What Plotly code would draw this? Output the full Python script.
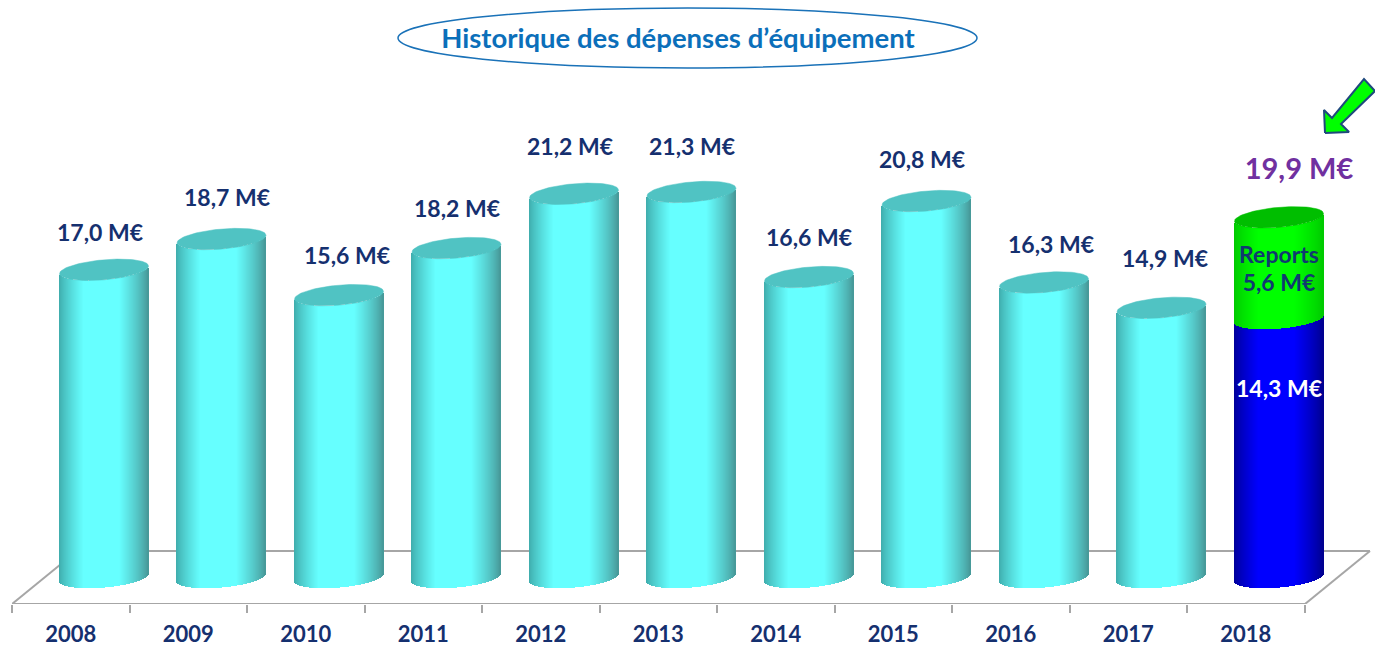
import plotly.graph_objects as go
import numpy as np

# ---- data ----
years = ["2008", "2009", "2010", "2011", "2012", "2013", "2014", "2015", "2016", "2017", "2018"]
totals = [17.0, 18.7, 15.6, 18.2, 21.2, 21.3, 16.6, 20.8, 16.3, 14.9]
value_labels = ["17,0 M€", "18,7 M€", "15,6 M€", "18,2 M€", "21,2 M€", "21,3 M€", "16,6 M€", "20,8 M€", "16,3 M€", "14,9 M€"]
base_2018 = 14.3
reports_2018 = 5.6
total_2018 = 19.9
title_text = "Historique des dépenses d’équipement"

# ---- layout geometry (pixels of the 1375x647 page) ----
W, H = 1375, 647
PX_L, PX_BOTTOM = 12, 604     # plot-area left edge and bottom edge
BAND = 117.5                  # px per category
UNIT = 18.1                   # px per value unit
Y0 = 577.5                    # px of value 0
CYL_SHIFT = (104 - (PX_L + BAND / 2)) / BAND   # cylinders stand deeper in the floor
HALF_W = 44.5 / BAND          # half cylinder width, category units
CAP_B = 10.0 / UNIT           # ellipse half height, value units
CAP_S = 3.8 / UNIT            # ellipse tilt, value units
STRIP = 1.0 / BAND
TEXT_DY = 3                   # text sits a little above its anchor
NAVY = "#15306F"
FONT = "Lato"


def xd(px):
    return (px - PX_L) / BAND - 0.5


def yd(px):
    return (Y0 - px) / UNIT


x_range = [-0.5, xd(W)]
y_range = [yd(PX_BOTTOM), yd(0)]


def shade(u, dark, light, dark_r):
    """Horizontal cylinder shading, u in -1..1."""
    if u < -0.45:
        t = (u + 1) / 0.55
        a = dark
    elif u > 0.35:
        t = (1 - u) / 0.65
        a = dark_r
    else:
        t, a = 1.0, light
    t = t ** 0.8
    return "rgb(%d,%d,%d)" % tuple(round(a[k] + (light[k] - a[k]) * t) for k in range(3))


def lower(level, u):
    return level - CAP_B * np.sqrt(max(0, 1 - u * u)) + CAP_S * u


def body(positions, bottoms, tops, dark, light, dark_r, name):
    xs, bases, heights, cols = [], [], [], []
    n = int(round(2 * HALF_W / STRIP))
    for pos, lo, hi in zip(positions, bottoms, tops):
        for k in range(n):
            u = (k + 0.5) / n * 2 - 1
            xs.append(pos + CYL_SHIFT + u * HALF_W)
            b = lower(lo, u)
            bases.append(b)
            heights.append(lower(hi, u) - b)
            cols.append(shade(u, dark, light, dark_r))
    return go.Bar(x=xs, y=heights, base=bases, width=STRIP * 1.25, name=name,
                  marker=dict(color=cols, line=dict(width=0)), hoverinfo="skip", showlegend=False)


def caps(positions, levels, color, name):
    xs, ys = [], []
    for pos, lev in zip(positions, levels):
        t = np.linspace(0, 2 * np.pi, 90)
        u = np.cos(t)
        xs += list(pos + CYL_SHIFT + HALF_W * u) + [None]
        ys += list(lev + CAP_B * np.sin(t) + CAP_S * u) + [None]
    return go.Scatter(x=xs, y=ys, mode="lines", fill="toself", fillcolor=color, name=name,
                      line=dict(width=0.5, color=color), hoverinfo="skip", showlegend=False)


positions = list(range(len(totals)))
CYAN = ((62, 170, 170), (102, 255, 255), (70, 150, 150))
BLUE = ((0, 0, 150), (0, 0, 255), (0, 0, 140))
GREEN = ((0, 200, 0), (0, 255, 0), (0, 200, 0))

fig = go.Figure()
fig.add_trace(body(positions, [0] * len(totals), totals, *CYAN, "Dépenses"))
fig.add_trace(body([10], [0], [base_2018], *BLUE, "2018 base"))
fig.add_trace(body([10], [base_2018], [total_2018], *GREEN, "Reports"))
fig.add_trace(caps(positions, totals, "#50C3C3", "caps"))
fig.add_trace(caps([10], [total_2018], "#00BE00", "caps 2018"))

# value labels
label_px_x = [100, 227, 347, 457, 570, 692, 809, 922, 1051, 1165]
label_px_y = [232, 197, 255, 208, 146, 146, 237, 159, 244, 258]
fig.add_trace(go.Scatter(x=[xd(p) for p in label_px_x], y=[yd(p + TEXT_DY) for p in label_px_y],
                         text=value_labels, mode="text", hoverinfo="skip", showlegend=False,
                         textfont=dict(family=FONT, size=23, color=NAVY, weight="bold")))

inner_labels = ["Reports", "5,6 M€", "14,3 M€"]
inner_px_y = [254, 282, 388]
inner_cols = ["#103A70", "#103A70", "#FFFFFF"]
fig.add_trace(go.Scatter(x=[xd(1279)] * 3, y=[yd(p + TEXT_DY) for p in inner_px_y], text=inner_labels,
                         mode="text", hoverinfo="skip", showlegend=False,
                         textfont=dict(family=FONT, size=23, color=inner_cols, weight="bold")))
fig.add_trace(go.Scatter(x=[xd(1299)], y=[yd(168 + TEXT_DY + 1)], text=["19,9 M€"], mode="text", hoverinfo="skip",
                         showlegend=False,
                         textfont=dict(family=FONT, size=29, color="#7030A0", weight="bold")))

# arrow
arrow_px = [(1325, 133), (1324, 110), (1332, 118), (1364, 79), (1375, 91), (1341, 124), (1349, 132), (1325, 133)]
fig.add_trace(go.Scatter(x=[xd(p[0]) for p in arrow_px], y=[yd(p[1]) for p in arrow_px], mode="lines",
                         fill="toself", fillcolor="#00FF00", line=dict(color="#1F497D", width=2),
                         hoverinfo="skip", showlegend=False, cliponaxis=False))

# floor
FLOOR = "#A6A6A6"
floor_px = [((12, 604), (77, 551)), ((77, 551), (1370, 551)), ((1370, 551), (1305, 604)), ((1305, 604), (12, 604))]
shapes = [dict(type="line", xref="x", yref="y", layer="below", x0=xd(a[0]), y0=yd(a[1]), x1=xd(b[0]), y1=yd(b[1]),
               line=dict(color=FLOOR, width=2)) for a, b in floor_px]
# title ellipse
shapes.append(dict(type="circle", xref="x", yref="y", layer="below", x0=xd(398), x1=xd(977), y0=yd(8), y1=yd(68),
                   line=dict(color="#1A72B8", width=1.5)))

fig.update_layout(
    width=W, height=H, autosize=False,
    margin=dict(l=PX_L, r=0, t=0, b=H - PX_BOTTOM, pad=0),
    paper_bgcolor="white", plot_bgcolor="white",
    barmode="overlay", bargap=0, showlegend=False, shapes=shapes,
    title=dict(text=title_text, x=678 / W, xanchor="center", xref="container", y=1 - 38 / H, yref="container",
               yanchor="middle", font=dict(family=FONT, size=27.5, color="#0B6FBA", weight="bold")),
    xaxis=dict(range=x_range, showgrid=False, zeroline=False, showline=False,
               tickvals=list(range(len(years))), ticktext=years, ticks="", ticklabelstandoff=15,
               tickfont=dict(family=FONT, size=22, color=NAVY, weight="bold"),
               minor=dict(tickvals=[i - 0.5 for i in range(len(years) + 1)], ticks="outside", ticklen=8,
                          tickcolor=FLOOR, tickwidth=1.5, showgrid=False)),
    yaxis=dict(range=y_range, visible=False, showgrid=False, zeroline=False),
)
fig.write_html("out.html", config=dict(displayModeBar=False),
               post_script="document.body.style.margin='0';document.body.style.overflow='hidden';")
